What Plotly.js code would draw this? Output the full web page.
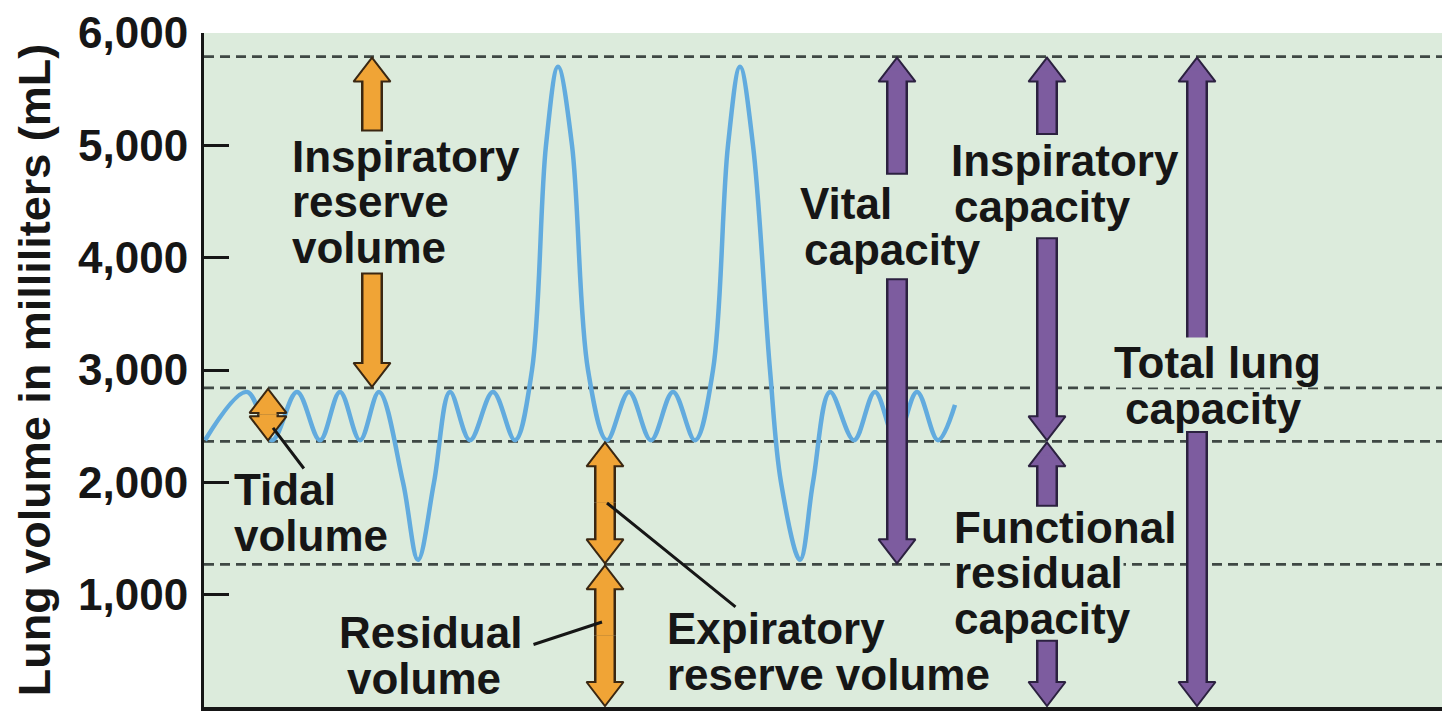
<!DOCTYPE html>
<html>
<head>
<meta charset="utf-8">
<script src="https://cdn.plot.ly/plotly-3.0.1.min.js"></script>
<style>
html,body{margin:0;padding:0;background:#ffffff;}
#chart{width:1445px;height:716px;}
</style>
</head>
<body>
<div id="chart"></div>
<script>
// ---------- DATA ----------
// Spirogram trace: time (arbitrary units along the record) and lung volume (mL)
const traceTime = [205,247,272,297,320,340,360,379,403,418,434,450,470,493,515,532,546,558,572,588,607,629,651,673,695,713,728,740,753,770,781,800,813,830,854,875,896,917,938,955];
const traceVolume = [2375,2805,2375,2805,2375,2805,2375,2805,2000,1310,2000,2805,2375,2805,2375,3000,5000,5700,5000,3000,2375,2805,2375,2805,2375,3000,5000,5700,5000,3000,2000,1310,2000,2805,2375,2805,2375,2805,2375,2690];

// Reference volume levels (dashed lines), mL
const levelNames = ['Residual volume', 'Functional residual capacity', 'End of tidal inspiration', 'Total lung capacity'];
const levelValues = [1270, 2365, 2840, 5790];

// Volumes and capacities (double arrows), mL
const arrowNames  = ['Inspiratory reserve volume','Tidal volume','Expiratory reserve volume','Residual volume','Vital capacity','Inspiratory capacity','Functional residual capacity','Total lung capacity'];
const arrowKinds  = ['volume','volume','volume','volume','capacity','capacity','capacity','capacity'];
const arrowBottom = [2840, 2365, 1270, 0, 1270, 2365, 0, 0];
const arrowTop    = [5790, 2840, 2365, 1270, 5790, 5790, 2365, 5790];

// Y axis ticks
const tickValues = [0, 1000, 2000, 3000, 4000, 5000, 6000];
const tickLabels = ['0', '1,000', '2,000', '3,000', '4,000', '5,000', '6,000'];
const innerTickValues = [1000, 2000, 3000, 4000, 5000];

// ---------- LAYOUT SETTINGS (positions / styles) ----------
const W = 1445, H = 716, M = {l: 204, r: 3, t: 33, b: 9};
const xRange = [204, 1442];
const yRange = [0, 6000];
const pxPerMl = (H - M.t - M.b) / (yRange[1] - yRange[0]);

const arrowXPos = [372, 268, 605, 605, 897, 1047, 1047, 1197];
// where the arrow shafts break for the labels (null = no break)
const arrowGapBottom = [3850, null, null, null, 3800, 4165, 580, 2440];
const arrowGapTop    = [5140, null, null, null, 4755, 5110, 1800, 3270];

const HEAD_SIZE = 32;      // triangle marker size (px)
const SHAFT_DEPTH = 14;    // shaft stops this many px before the tip (inside the head)
const END_EDGE = 2;        // dark edge on the flat end of a broken shaft (px)

const FONT = 'Liberation Sans, Arial, Helvetica, sans-serif';
const INK = '#161616';
const BG = '#dcebdc';
const kindStyle = {
  volume:   {fill: '#f0a436', edge: '#3a2712'},
  capacity: {fill: '#7d5c9f', edge: '#2c2140'}
};

// label lines: text, left x, center y (mL), with background?
const labelText = ['Inspiratory','reserve','volume','Tidal','volume','Residual','volume','Expiratory','reserve volume','Vital','capacity','Inspiratory','capacity','Total lung','capacity','Functional','residual','capacity'];
const labelX    = [291,291,291,233,233,338,346,666,666,799,803,950,953,1113,1124,953,953,953];
const labelY    = [4901,4496,4091,1934,1529,661,256,697,292,4480,4075,4863,4458,3065,2660,1602,1197,792];
const labelBg   = [0,0,0,0,0,0,0,0,0,0,0,0,0,1,0,0,1,0];

// leader lines from labels to arrows: [startX, startY, endX, endY]
const leaders = [
  [305, 2110, 273, 2484],
  [532, 552, 602, 757],
  [737, 881, 607, 1816]
];

// ---------- TRACES ----------
const traces = [];

// dashed reference lines
levelValues.forEach((v, i) => {
  traces.push({
    type: 'scatter', mode: 'lines', name: levelNames[i],
    x: xRange, y: [v, v],
    line: {color: '#3f4844', width: 2.8, dash: '10px,6px'},
    hoverinfo: 'skip', showlegend: false
  });
});

// spirogram
traces.push({
  type: 'scatter', mode: 'lines', name: 'Lung volume',
  x: traceTime, y: traceVolume,
  line: {color: '#62abde', width: 4.5, shape: 'spline', smoothing: 1},
  hoverinfo: 'skip', showlegend: false
});

// arrows: outlines first, then heads, then the coloured shafts
const outlineLayer = [], headLayer = [], fillLayer = [];
function arrowPiece(name, x, start, tip, st, brokenEnd) {
  const dir = tip >= start ? 1 : -1;
  let shaftEnd = tip - dir * SHAFT_DEPTH / pxPerMl;
  if ((shaftEnd - start) * dir < 0) shaftEnd = start;
  const outlineStart = brokenEnd ? start - dir * END_EDGE / pxPerMl : start;
  const common = {type: 'scatter', name: name, hoverinfo: 'skip', showlegend: false};
  outlineLayer.push(Object.assign({mode: 'lines', x: [x, x], y: [outlineStart, shaftEnd],
      line: {color: st.edge, width: 22}}, common));
  headLayer.push(Object.assign({mode: 'markers', x: [x, x], y: [start, tip],
      marker: {symbol: 'triangle-up', angleref: 'previous', size: HEAD_SIZE,
               standoff: HEAD_SIZE / 2 + 1, opacity: [0, 1], color: st.fill,
               line: {color: st.edge, width: 2}}}, common));
  fillLayer.push(Object.assign({mode: 'lines', x: [x, x], y: [start, shaftEnd],
      line: {color: st.fill, width: 17}}, common));
}

arrowNames.forEach((name, i) => {
  const st = kindStyle[arrowKinds[i]];
  const mid = (arrowBottom[i] + arrowTop[i]) / 2;
  const broken = arrowGapBottom[i] !== null;
  const gLow = broken ? arrowGapBottom[i] : mid;
  const gHigh = broken ? arrowGapTop[i] : mid;
  arrowPiece(name, arrowXPos[i], gLow, arrowBottom[i], st, broken);
  arrowPiece(name, arrowXPos[i], gHigh, arrowTop[i], st, broken);
});
outlineLayer.concat(headLayer, fillLayer).forEach(t => traces.push(t));

// carrier for the tick-mark overlay axis
traces.push({type: 'scatter', mode: 'markers', x: [null], y: [null], yaxis: 'y2', hoverinfo: 'skip', showlegend: false});

// ---------- ANNOTATIONS ----------
const annotations = [];
labelText.forEach((t, i) => {
  annotations.push({
    xref: 'x', yref: 'y', x: labelX[i], y: labelY[i],
    xanchor: 'left', yanchor: 'middle', showarrow: false,
    text: t, borderpad: 0,
    bgcolor: labelBg[i] ? BG : 'rgba(0,0,0,0)',
    font: {family: FONT, size: 44, color: INK, weight: 'bold'}
  });
});
leaders.forEach(l => {
  annotations.push({
    xref: 'x', yref: 'y', axref: 'x', ayref: 'y',
    x: l[2], y: l[3], ax: l[0], ay: l[1],
    text: '', showarrow: true, arrowhead: 0, arrowwidth: 3, arrowcolor: INK, standoff: 0
  });
});

const layout = {
  width: W, height: H,
  margin: {l: M.l, r: M.r, t: M.t, b: M.b, pad: 0},
  paper_bgcolor: '#ffffff',
  plot_bgcolor: BG,
  showlegend: false,
  font: {family: FONT, color: INK},
  xaxis: {
    range: xRange, showgrid: false, zeroline: false, showticklabels: false, ticks: '',
    showline: true, linecolor: INK, linewidth: 3.5, fixedrange: true
  },
  yaxis: {
    range: yRange, showgrid: false, zeroline: false,
    tickvals: tickValues, ticktext: tickLabels, ticks: '',
    tickfont: {family: FONT, size: 44, color: INK, weight: 'bold'},
    ticklabelstandoff: 4,
    showline: true, linecolor: INK, linewidth: 3, fixedrange: true,
    title: {text: 'Lung volume in milliliters (mL)', standoff: 14,
            font: {family: FONT, size: 45, color: INK, weight: 'bold'}}
  },
  yaxis2: {
    overlaying: 'y', side: 'left', range: yRange, showgrid: false, zeroline: false,
    tickvals: innerTickValues, ticks: 'inside', ticklen: 25, tickwidth: 3, tickcolor: INK,
    showticklabels: false, showline: false, fixedrange: true
  },
  annotations: annotations
};

Plotly.newPlot('chart', traces, layout, {displayModeBar: false, staticPlot: true});
</script>
</body>
</html>
